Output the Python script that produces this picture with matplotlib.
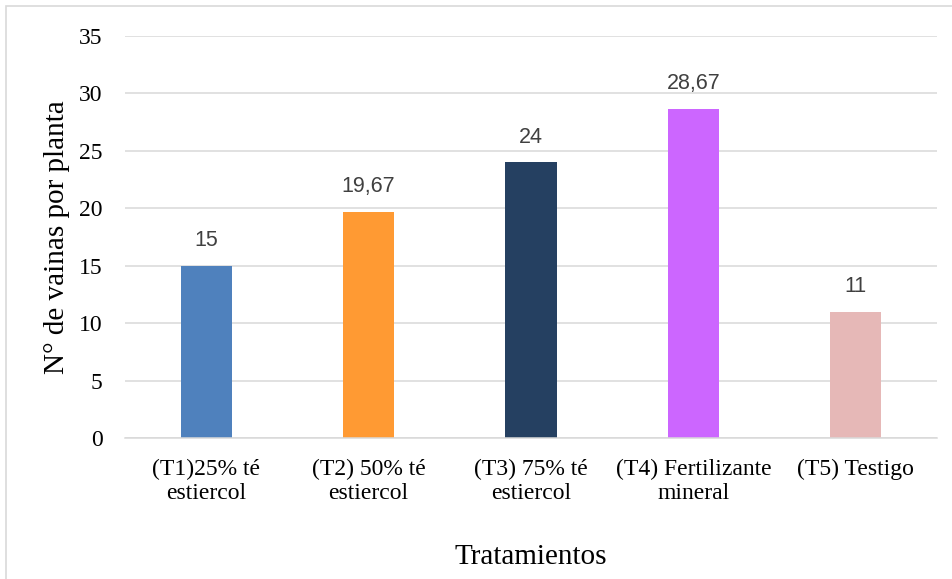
import matplotlib
matplotlib.use("Agg")
import matplotlib.pyplot as plt
from matplotlib.patches import Rectangle

categories = ["(T1)25% té\nestiercol", "(T2) 50% té\nestiercol", "(T3) 75% té\nestiercol",
              "(T4) Fertilizante\nmineral", "(T5) Testigo"]
values = [15, 19.67, 24, 28.67, 11]
value_labels = ["15", "19,67", "24", "28,67", "11"]
colors = ["#4F81BD", "#FF9A33", "#254061", "#CC66FF", "#E6B8B7"]
yticks = [0, 5, 10, 15, 20, 25, 30, 35]

W, H = 953, 579
fig = plt.figure(figsize=(W / 100, H / 100), dpi=100)
ax = fig.add_axes([125 / W, 1 - 438 / H, (937 - 125) / W, (438 - 36) / H])

serif = "Liberation Serif"
grid_c = "#D9D9D9"

x = range(len(categories))
ax.bar(x, values, width=0.315, color=colors, zorder=3)
ax.set_xlim(-0.5, len(categories) - 0.5)
ax.set_ylim(0, 35)

ax.set_yticks(yticks)
ax.set_yticklabels([str(t) for t in yticks], fontfamily=serif, fontsize=17)
ax.set_xticks(list(x))
ax.set_xticklabels(categories, fontfamily=serif, fontsize=17, linespacing=1.2,
                   multialignment="center")
ax.tick_params(axis="y", length=0, pad=16)
ax.tick_params(axis="x", length=0, pad=15)

ax.grid(axis="y", color=grid_c, linewidth=1.1, zorder=0)
for s in ["top", "right", "left"]:
    ax.spines[s].set_visible(False)
ax.spines["bottom"].set_color(grid_c)
ax.spines["bottom"].set_linewidth(1.1)
ax.spines["bottom"].set_zorder(4)

for xi, v, lab in zip(x, values, value_labels):
    ax.annotate(lab, (xi, v), xytext=(0, 10.5), textcoords="offset points",
                ha="center", va="bottom", fontsize=15.5, color="#404040",
                fontfamily="Liberation Sans")

ylab = ax.set_ylabel("N° de vainas por planta", fontfamily=serif, fontsize=21)
ylab.set_va("center")
ax.yaxis.set_label_coords(57 / W, 0.5 * (1 - 438 / H + 1 - 36 / H), transform=fig.transFigure)
fig.text(531 / W, 1 - 557 / H, "Tratamientos", fontfamily=serif, fontsize=21,
         ha="center", va="center")

# outer chart frame
fig.patches.append(Rectangle((6 / W, -0.1), 1.2, 1 - 6.5 / H + 0.1,
                             transform=fig.transFigure, fill=False,
                             edgecolor=grid_c, linewidth=1.2, zorder=0))

fig.savefig("out.png", dpi=100)
